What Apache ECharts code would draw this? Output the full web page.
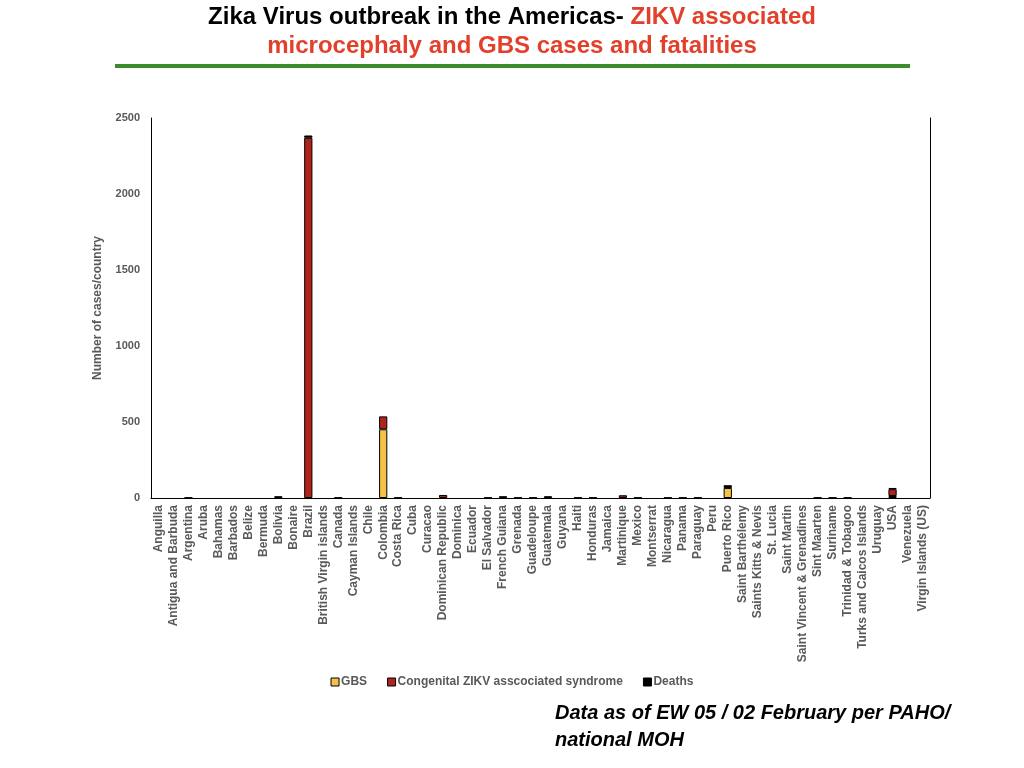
<!DOCTYPE html>
<html>
<head>
<meta charset="utf-8">
<script src="https://cdn.jsdelivr.net/npm/echarts@6/dist/echarts.min.js"></script>
<style>
  html, body { margin: 0; padding: 0; background: #fff; }
  #chart { width: 1024px; height: 768px; }
</style>
</head>
<body>
<div id="chart"></div>
<script>
// categories
const countries = [
  'Anguilla', 'Antigua and Barbuda', 'Argentina', 'Aruba', 'Bahamas', 'Barbados', 'Belize',
  'Bermuda', 'Bolivia', 'Bonaire', 'Brazil', 'British Virgin islands', 'Canada',
  'Cayman Islands', 'Chile', 'Colombia', 'Costa Rica', 'Cuba', 'Curacao', 'Dominican Republic',
  'Dominica', 'Ecuador', 'El Salvador', 'French Guiana', 'Grenada', 'Guadeloupe', 'Guatemala',
  'Guyana', 'Haiti', 'Honduras', 'Jamaica', 'Martinique', 'Mexico', 'Montserrat', 'Nicaragua',
  'Panama', 'Paraguay', 'Peru', 'Puerto Rico', 'Saint Barthélemy', 'Saints Kitts & Nevis',
  'St. Lucia', 'Saint Martin', 'Saint Vincent & Grenadines', 'Sint Maarten', 'Suriname',
  'Trinidad & Tobagoo', 'Turks and Caicos Islands', 'Uruguay', 'USA', 'Venezuela',
  'Virgin Islands (US)'
]

// series values
const gbs = [
  0, 0, 3, 0, 0, 0, 0,
  0, 0, 0, 0, 0, 3,
  0, 0, 452, 3, 0, 0, 0,
  0, 0, 3, 0, 3, 3, 0,
  0, 3, 3, 0, 0, 3, 0, 3,
  3, 3, 0, 66, 0, 0,
  0, 0, 0, 3, 3,
  3, 0, 0, 13, 0,
  0
]
const congenital = [
  0, 0, 0, 0, 0, 0, 0,
  0, 12, 0, 2370, 0, 0,
  0, 0, 85, 0, 0, 0, 20,
  0, 0, 0, 12, 0, 0, 12,
  0, 0, 0, 0, 18, 0, 0, 0,
  0, 0, 0, 0, 0, 0,
  0, 0, 0, 0, 0,
  0, 0, 0, 45, 0,
  0
]
const deaths = [
  0, 0, 0, 0, 0, 0, 0,
  0, 0, 0, 15, 0, 0,
  0, 0, 0, 0, 0, 0, 0,
  0, 0, 0, 0, 0, 0, 0,
  0, 0, 0, 0, 0, 0, 0, 0,
  0, 0, 0, 18, 0, 0,
  0, 0, 0, 0, 0,
  0, 0, 0, 8, 0,
  0
]

// tick labels
const yMin = 0
const yMax = 2500
const yStep = 500

const gray = '#595959'
const font = 'Liberation Sans, Arial, sans-serif'

const chartDom = document.getElementById('chart')
const chart = echarts.init(chartDom)

// zero cases: no bar at all (otherwise the outline shows up)
const noZero = arr => arr.map(v => (v === 0 ? '-' : v))
const barStyle = color => ({ color: color, borderColor: '#000', borderWidth: 1 })

const options = {
  animation: false,
  backgroundColor: '#fff',
  title: {
    left: 'center',
    top: 3,
    padding: 0,
    text: '{a|Zika Virus outbreak in the Americas- }{b|ZIKV associated}\n{b|microcephaly and GBS cases and fatalities}',
    textStyle: {
      rich: {
        a: { fontFamily: font, fontSize: 24, fontWeight: 'bold', color: '#000', lineHeight: 29 },
        b: { fontFamily: font, fontSize: 24, fontWeight: 'bold', color: '#e2402b', lineHeight: 29 }
      }
    }
  },
  graphic: [
    { type: 'rect', shape: { x: 115, y: 64, width: 795, height: 4 }, style: { fill: '#3b8c2d' } },
    {
      type: 'text', left: 555, top: 700,
      style: {
        text: 'Data as of EW 05 / 02 February per PAHO/\nnational MOH',
        font: 'italic bold 20px Liberation Sans, Arial, sans-serif',
        lineHeight: 27, fill: '#000'
      }
    }
  ],
  legend: {
    bottom: 75,
    left: 'center',
    itemGap: 20,
    itemWidth: 8,
    itemHeight: 8,
    icon: 'rect',
    textStyle: { color: gray, fontWeight: 'bold', fontSize: 12, fontFamily: font, padding: [0, 0, 0, -3] },
    itemStyle: { borderColor: '#000', borderWidth: 1 },
    data: ['GBS', 'Congenital ZIKV asscociated syndrome', 'Deaths']
  },
  grid: { left: 151, right: 94, top: 118, bottom: 270, containLabel: false },
  xAxis: [
    {
      type: 'category',
      data: countries,
      axisLine: { lineStyle: { color: '#d9d9d9', width: 1 } },
      axisTick: { show: false },
      axisLabel: {
        interval: 0, rotate: 90, color: gray, fontWeight: 'bold',
        fontSize: 12, fontFamily: font, margin: 7
      }
    },
    {
      type: 'category',
      position: 'top',
      data: countries,
      axisLine: { lineStyle: { color: '#000', width: 1 } },
      axisTick: { show: false },
      axisLabel: { show: false }
    }
  ],
  yAxis: [
    {
      type: 'value',
      min: yMin, max: yMax, interval: yStep,
      name: 'Number of cases/country',
      nameLocation: 'middle',
      nameGap: 47,
      nameTextStyle: { color: gray, fontWeight: 'bold', fontSize: 12, fontFamily: font },
      axisLine: { show: true, lineStyle: { color: '#000', width: 1 } },
      axisTick: { show: false },
      splitLine: { show: false },
      axisLabel: {
        color: gray, fontWeight: 'bold', fontSize: 11, fontFamily: font, margin: 11,
        formatter: v => String(v)
      }
    },
    {
      type: 'value',
      position: 'right',
      min: yMin, max: yMax, interval: yStep,
      axisLine: { show: true, lineStyle: { color: '#000', width: 1 } },
      axisTick: { show: false },
      splitLine: { show: false },
      axisLabel: { show: false }
    }
  ],
  series: [
    { name: 'GBS', type: 'bar', stack: 'total', barWidth: '55%', data: noZero(gbs), itemStyle: barStyle('#f4c246') },
    { name: 'Congenital ZIKV asscociated syndrome', type: 'bar', stack: 'total', barWidth: '55%', data: noZero(congenital), itemStyle: barStyle('#b0241b') },
    { name: 'Deaths', type: 'bar', stack: 'total', barWidth: '55%', data: noZero(deaths), itemStyle: barStyle('#000') }
  ]
}

chart.setOption(options, true)
</script>
</body>
</html>
